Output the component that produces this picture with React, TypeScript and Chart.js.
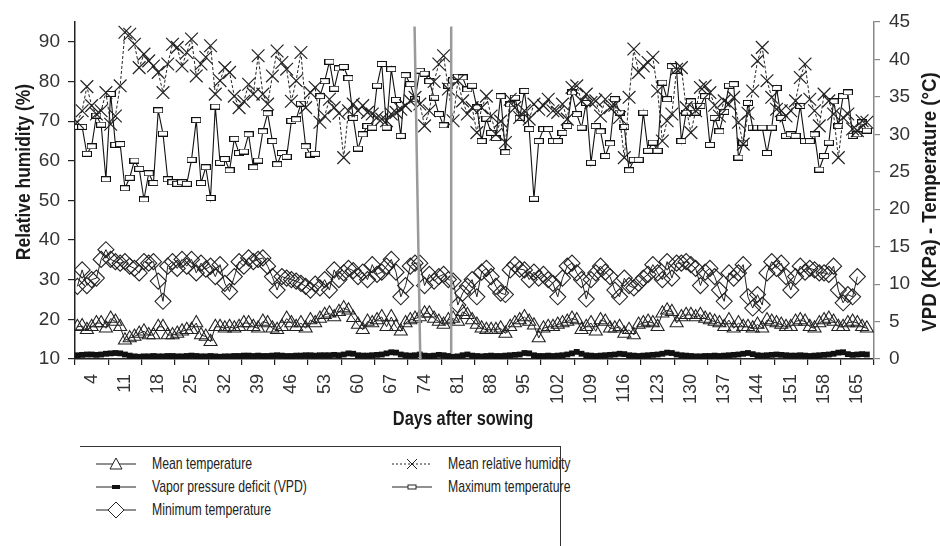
import React, { useEffect, useRef } from 'react';
import { Chart, registerables } from 'chart.js';

Chart.register(...registerables);

// ---------------- DATA ----------------
const days: number[] = Array.from({ length: 167 }, (_, i) => i + 1);
const xTickLabels = [4, 11, 18, 25, 32, 39, 46, 53, 60, 67, 74, 81, 88, 95, 102, 109, 116, 123, 130, 137, 144, 151, 158, 165];
const xTickBoundaries = [0.5, 7.5, 14.5, 21.5, 28.5, 35.5, 42.5, 49.5, 56.5, 63.5, 70.5, 77.5, 84.5, 91.5, 98.5, 105.5, 112.5, 119.5, 126.5, 133.5, 140.5, 147.5, 154.5, 161.5, 168.5];
const leftTicks = [10, 20, 30, 40, 50, 60, 70, 80, 90];
const rightTicks = [0, 5, 10, 15, 20, 25, 30, 35, 40, 45];

// Mean temperature (°C, right axis)
const meanTemp = [
  4.3, 4.4, 3.9, 4.3, 4.8, 4.8, 4.1, 5.4, 5.0, 4.3, 2.5, 2.8, 3.0, 3.4, 3.7, 3.2, 3.2, 4.3, 4.3, 3.2,
  3.2, 3.4, 3.7, 3.9, 3.9, 4.8, 3.2, 3.0, 2.3, 4.3, 4.3, 4.1, 4.3, 4.1, 4.3, 4.8, 4.8, 4.3, 4.1, 5.0,
  4.8, 4.1, 3.9, 4.3, 5.4, 4.8, 4.3, 4.8, 4.1, 5.2, 4.8,
  5.4, 5.9, 6.1, 5.6, 6.3, 6.8, 6.5, 5.5, 4.6, 3.9, 5.0, 4.8, 5.2, 5.6, 4.3, 5.6, 4.3, 3.7, 4.8, 5.2,
  5.4, 5.6, 6.1, 6.1, 5.4, 5.0, 4.6, 5.2, 5.4, 5.0, 6.3, 5.9, 5.2, 4.6, 4.1, 3.9, 3.9, 3.9, 4.1, 3.4,
  4.3, 4.8, 5.2, 5.6, 5.0, 4.5, 2.8, 4.1, 4.3, 4.3, 4.6, 4.8, 5.0, 5.4, 5.2, 3.9, 4.3, 4.8, 3.7, 5.2,
  5.0, 4.1, 4.1,
  4.3, 3.4, 3.9, 3.2, 4.6, 4.8, 5.0, 4.8, 4.3, 6.1, 6.5, 6.3, 4.8, 5.6, 5.9, 5.9, 5.6, 5.9, 5.4, 5.2,
  5.0, 4.8, 4.3, 5.2, 4.1, 4.8, 4.3, 4.3, 4.1, 4.6, 4.1, 5.2, 5.0, 4.8, 4.6, 4.3, 4.3, 5.0, 5.2, 5.0,
  4.3, 4.1, 4.8, 5.2, 5.4, 5.0, 4.3, 4.3, 4.8, 5.0, 4.8, 4.3, 4.1,
];

// Vapor pressure deficit (KPa, right axis)
const vpd = [
  0.5, 0.55, 0.6, 0.6, 0.55, 0.6, 0.7, 0.75, 0.8, 0.75, 0.6, 0.45,
  0.35, 0.3, 0.35, 0.35, 0.4, 0.35, 0.35, 0.4, 0.4, 0.35, 0.35, 0.4, 0.45, 0.4, 0.35, 0.35, 0.4, 0.35,
  0.3, 0.35, 0.35, 0.4, 0.4, 0.45, 0.45, 0.4, 0.45, 0.4, 0.4, 0.45, 0.5, 0.45, 0.4, 0.4, 0.45, 0.45, 0.5, 0.5,
  0.45, 0.5, 0.5, 0.5, 0.55, 0.5, 0.6, 0.75, 0.7, 0.5, 0.45, 0.45, 0.5, 0.55, 0.6, 0.75, 0.9, 0.85, 0.6, 0.5,
  0.45, 0.5, 0.6, 0.45, 0.4, 0.45, 0.55, 0.5, 0.4, 0.3, 0.35, 0.5, 0.6, 0.45, 0.4, 0.35, 0.4, 0.45, 0.4, 0.4,
  0.45, 0.5, 0.55, 0.6, 0.8, 0.75, 0.5, 0.4, 0.4, 0.45, 0.4, 0.45, 0.5, 0.6, 0.75, 0.95, 0.7, 0.5, 0.45, 0.4,
  0.45, 0.5, 0.55, 0.6, 0.7, 0.65, 0.5, 0.45, 0.4, 0.45, 0.5, 0.55, 0.6, 0.7, 0.85, 0.8, 0.6, 0.5, 0.45, 0.4,
  0.35, 0.35, 0.4, 0.4, 0.45, 0.4, 0.45, 0.5, 0.55, 0.6, 0.7, 0.8, 0.65, 0.5, 0.45, 0.5, 0.55, 0.6, 0.55, 0.5,
  0.45, 0.45, 0.5, 0.45, 0.4, 0.45, 0.5, 0.55, 0.6, 0.7, 0.85, 0.9, 0.65, 0.55, 0.6, 0.65, 0.6,
];

// Minimum temperature (°C, right axis)
const minTemp: (number | null)[] = [
  9.7, 11.9, 9.8, 10.6, 10.8, 13.3, 14.6, 13.3, 13.0, 12.8, 13.0, 12.4, 12.1, 11.5, 13.0, 12.8, 13.0, 10.4, 7.7, 12.4,
  13.0, 12.1, 13.3, 12.4, 13.3, 11.5, 12.8, 12.0, 12.4, 11.0, 12.6, 10.1, 9.0, 11.0, 13.0, 12.4, 13.5, 13.0, 13.3, 13.5,
  12.4, 11.0, 9.2, 11.0, 10.8, 10.6, 10.4, 10.1, 9.7, 9.2, 10.0,
  9.5, 10.6, 9.2, 11.9, 10.6, 11.5, 12.1, 11.8, 11.0, 11.6, 10.6, 12.6, 11.3, 11.6, 12.4, 13.3, 11.6, 8.3, 9.8, 12.4,
  12.8, 12.8, 9.8, 11.3, 10.4, 11.0, 11.3, 10.6, 10.4, 7.2, 8.8, 9.7, 10.6, 8.3, 11.6, 12.1, 11.0, 9.7, 8.8, 8.6,
  11.9, 12.6, 12.0, 11.9, 10.6, 11.6, 10.8, 11.3, 10.6, 10.1, 8.3, 10.8, 12.4, 12.8, 11.5, 10.6, 8.0, 10.6, 11.5, 12.4,
  11.6, 11.0, 9.2,
  8.3, 10.8, 9.8, 9.5, 10.1, 10.8, 11.3, 12.6, 11.5, 10.6, 13.0, 10.8, 12.8, 12.8, 13.0, 12.6, 12.1, 9.8, 11.6, 12.1,
  11.0, 9.2, 7.7, 11.5, 10.8, 11.5, 12.6, 8.3, 6.8, 8.6, 7.2, 11.5, 13.0, 12.1, 12.8, 11.0, 9.2, 11.0, 12.4, 11.6,
  12.1, 11.9, 11.5, 11.5, 11.3, 12.4, 9.2, 7.5, 8.6, 8.3, 11.0, null, null,
];

// Mean relative humidity (%, left axis)
const meanRH = [
  69.7, 72.6, 78.7, 73.9, 71.8, 72.6, 77.2, 69.2, 71.3, 78.9, 92.4, 91.9, 89.4, 83.5, 86.9, 85.2, 83.9, 82.3, 77.2, 84.4,
  89.4, 88.6, 83.9, 87.3, 90.7, 81.4, 84.4, 86.1, 89.0, 76.8, 80.2, 83.5, 82.3, 76.3, 73.4, 75.0, 79.3, 76.8, 86.5, 76.8,
  74.3, 81.4, 87.7, 84.8, 83.1, 75.0, 80.2, 87.3, 73.4, 77.2, 78.5,
  69.7, 71.3, 75.5, 73.4, 72.0, 60.8, 72.6, 74.3, 72.6, 73.9, 72.2, 71.8, 70.9, 70.5, 70.1, 71.8, 72.2, 73.0, 73.9, 75.1,
  76.0, 74.3, 68.8, 72.6, 80.0, 84.4, 86.5, 78.1, 70.1, 80.2, 75.1, 71.8, 73.4, 67.1, 73.4, 76.3, 71.3, 66.7, 70.0, 64.6,
  75.5, 73.4, 70.9, 72.6, 70.5, 74.3, 73.0, 73.9, 75.5, 72.6, 72.2, 74.3, 70.5, 78.5, 78.9, 75.1, 76.8, 74.7, 75.1, 71.3,
  75.5, 73.4, 74.0,
  70.9, 60.8, 76.0, 88.2, 82.3, 83.9, 84.8, 86.1, 77.6, 65.0, 70.1, 71.8, 83.1, 83.5, 73.4, 67.1, 72.6, 78.5, 78.9, 77.2,
  74.0, 71.3, 75.1, 74.3, 76.0, 69.7, 64.2, 72.0, 77.6, 85.2, 88.6, 80.2, 76.0, 73.0, 72.6, 71.3, 72.6, 75.1, 81.0, 84.4,
  75.5, 72.6, 68.8, 76.8, 75.1, 71.8, 60.8, 70.9, 71.8, 68.0, 67.6, 70.1, 69.7,
];

// Maximum temperature (°C, right axis)
const maxTemp = [
  31.0, 31.0, 27.4, 28.4, 32.5, 31.3, 24.0, 35.4, 28.6, 28.7, 22.8, 24.2, 26.5, 25.4, 21.3, 24.8, 23.5, 33.2, 30.1, 24.0,
  23.6, 23.4, 23.6, 23.4, 26.6, 31.9, 23.5, 25.6, 21.5, 33.7, 26.2, 26.7, 25.2, 29.4, 27.5, 27.7, 30.0, 25.6, 26.5, 30.4,
  32.8, 29.1, 26.0, 27.5, 27.0, 31.8, 32.0, 34.1, 28.4, 27.3,
  27.4, 35.1, 37.1, 39.7, 36.1, 38.8, 39.0, 37.5, 32.2, 28.1, 30.0, 31.1, 30.9, 36.5, 39.4, 30.9, 38.7, 34.6, 29.8, 37.9,
  36.7, 34.7, 38.5, 38.1, 37.1, 34.9, 32.7, 31.2, 36.5, 37.2, 37.7, 37.6, 36.0, 36.5, 33.6, 29.1, 32.1, 30.2, 29.5, 35.1,
  27.6, 34.0, 34.9, 32.2, 35.8, 30.7, 21.4, 29.1, 30.7, 30.7, 29.1, 29.1, 30.2, 31.1, 35.6, 32.7, 30.9, 34.2, 26.2, 31.1,
  30.4, 27.1, 28.8, 34.7,
  32.9, 31.0, 25.2, 26.6, 26.6, 32.9, 27.8, 28.9, 27.8, 36.9, 34.7, 39.1, 38.5, 29.1, 32.9, 34.4, 32.9, 33.8, 35.1, 28.6,
  32.2, 30.4, 33.0, 36.5, 36.7, 26.9, 28.9, 34.2, 30.9, 30.9, 30.9, 27.5, 30.9, 36.2, 32.2, 29.8, 30.0, 29.8, 33.8, 29.1,
  29.1, 30.0, 25.3, 27.1, 28.9, 34.4, 31.1, 35.1, 35.6, 29.8, 30.0, 31.6, 30.5,
];

// Two grey reference lines (day, value on right axis)
const refLine1 = [[71.9, 44.4], [73.1, 0]];
const refLine2 = [[79.6, 44.4], [79.6, 0.8]];

const SANS = '"Liberation Sans", Arial, Helvetica, sans-serif';

function rectMarker(fill: string): HTMLCanvasElement {
  const c = document.createElement('canvas');
  c.width = 10;
  c.height = 6;
  const g = c.getContext('2d')!;
  g.fillStyle = fill;
  g.fillRect(0.5, 0.5, 9, 5);
  g.strokeStyle = '#111';
  g.lineWidth = 1;
  g.strokeRect(0.5, 0.5, 9, 5);
  return c;
}

function drawCondensed(ctx: any, text: string, x: number, y: number, rot: number, sx: number) {
  ctx.save();
  ctx.translate(x, y);
  ctx.rotate(rot);
  ctx.scale(sx, 1);
  ctx.fillText(text, 0, 0);
  ctx.restore();
}

const titlePlugin = {
  id: 'axisTitles',
  afterDraw(chart: any) {
    const ctx = chart.ctx;
    ctx.save();
    ctx.fillStyle = '#1a1a1a';
    ctx.textAlign = 'center';
    ctx.textBaseline = 'middle';
    ctx.font = `bold 21px ${SANS}`;
    drawCondensed(ctx, 'Relative humidity (%)', 24, 172, -Math.PI / 2, 0.83);
    drawCondensed(ctx, 'VPD (KPa) - Temperature (°C)', 930, 202, -Math.PI / 2, 0.89);
    ctx.font = `bold 20px ${SANS}`;
    drawCondensed(ctx, 'Days after sowing', 463, 419, 0, 0.82);
    ctx.restore();
  },
};

const toXY = (arr: (number | null)[]) => arr.map((v, i) => ({ x: days[i], y: v }));

function LegendSymbol({ kind }: { kind: string }) {
  const line = kind === 'rh'
    ? <line x1="0" y1="8" x2="40" y2="8" stroke="#222" strokeWidth="1" strokeDasharray="2,2" />
    : <line x1="0" y1="8" x2="40" y2="8" stroke="#222" strokeWidth="1.2" />;
  let mark: any = null;
  if (kind === 'tri') mark = <polygon points="20,2 26,13 14,13" fill="#fff" stroke="#222" strokeWidth="1" />;
  if (kind === 'vpd') mark = <rect x="16" y="6" width="8" height="4" fill="#111" />;
  if (kind === 'dia') mark = <polygon points="20,0 28,8 20,16 12,8" fill="#fff" stroke="#222" strokeWidth="1" />;
  if (kind === 'rh') mark = <g stroke="#222" strokeWidth="1"><line x1="15" y1="3" x2="25" y2="13" /><line x1="15" y1="13" x2="25" y2="3" /></g>;
  if (kind === 'max') mark = <rect x="16" y="6" width="8" height="4" fill="#fff" stroke="#222" strokeWidth="1" />;
  return (
    <svg width="40" height="16" style={{ display: 'block' }}>
      {line}
      {mark}
    </svg>
  );
}

export default function App() {
  const ref = useRef<HTMLCanvasElement | null>(null);

  useEffect(() => {
    if (!ref.current) return;
    const boundarySet = new Set(xTickBoundaries);
    const labelSet = new Set(xTickLabels);
    const chart = new Chart(ref.current, {
      type: 'line',
      data: {
        datasets: [
          {
            label: 'ref1', data: refLine1.map(([x, y]) => ({ x, y })), yAxisID: 'yR',
            borderColor: '#9a9a9a', borderWidth: 2.5, pointRadius: 0, order: 0,
          },
          {
            label: 'ref2', data: refLine2.map(([x, y]) => ({ x, y })), yAxisID: 'yR',
            borderColor: '#9a9a9a', borderWidth: 2.5, pointRadius: 0, order: 0,
          },
          {
            label: 'Mean relative humidity', data: toXY(meanRH), yAxisID: 'yL',
            borderColor: '#222', borderWidth: 1, borderDash: [3, 2],
            pointStyle: 'crossRot', pointRadius: 9, pointBorderColor: '#222', pointBorderWidth: 1.2,
            order: 1,
          },
          {
            label: 'Maximum temperature', data: toXY(maxTemp), yAxisID: 'yR',
            borderColor: '#111', borderWidth: 1.1,
            pointStyle: rectMarker('#fff') as any, pointRadius: 5,
            order: 1,
          },
          {
            label: 'Minimum temperature', data: toXY(minTemp), yAxisID: 'yR',
            borderColor: '#222', borderWidth: 1,
            pointStyle: 'rectRot', pointRadius: 8, pointBackgroundColor: 'rgba(255,255,255,0)',
            pointBorderColor: '#222', pointBorderWidth: 1.1,
            order: 1,
          },
          {
            label: 'Mean temperature', data: toXY(meanTemp), yAxisID: 'yR',
            borderColor: '#222', borderWidth: 1,
            pointStyle: 'triangle', pointRadius: 7.5, pointBackgroundColor: 'rgba(255,255,255,0)',
            pointBorderColor: '#222', pointBorderWidth: 1.1,
            order: 1,
          },
          {
            label: 'Vapor pressure deficit (VPD)', data: toXY(vpd), yAxisID: 'yR',
            borderColor: '#111', borderWidth: 3,
            pointStyle: 'rect', pointRadius: 2, pointBackgroundColor: '#111', pointBorderColor: '#111',
            order: 1,
          },
        ],
      },
      options: {
        animation: false,
        responsive: false,
        events: [],
        layout: { padding: { top: 22, left: 0, right: 0, bottom: 0 } },
        plugins: { legend: { display: false }, tooltip: { enabled: false } },
        scales: {
          x: {
            type: 'linear',
            min: 0.5,
            max: 168.5,
            afterBuildTicks: (scale: any) => {
              const vals = [...xTickBoundaries, ...xTickLabels].sort((a, b) => a - b);
              scale.ticks = vals.map((v) => ({ value: v }));
            },
            afterFit: (scale: any) => { scale.height = 81; },
            border: { display: true, color: '#222', width: 1.5 },
            grid: {
              drawOnChartArea: false,
              drawTicks: true,
              tickLength: 6,
              lineWidth: 1.2,
              color: (c: any) => (c.tick && boundarySet.has(c.tick.value) ? '#222' : 'rgba(0,0,0,0)'),
            },
            ticks: {
              autoSkip: false,
              maxRotation: 90,
              minRotation: 90,
              padding: 9,
              color: '#333',
              font: { family: SANS, size: 18 },
              callback: (v: any) => (labelSet.has(Number(v)) ? String(v) : ''),
            },
          },
          yL: {
            type: 'linear',
            position: 'left',
            min: 10,
            max: 95,
            afterBuildTicks: (scale: any) => { scale.ticks = leftTicks.map((v) => ({ value: v })); },
            afterFit: (scale: any) => { scale.width = 75; },
            border: { display: true, color: '#222', width: 1.5 },
            grid: { drawOnChartArea: false, tickLength: 7, color: '#222', lineWidth: 1.2 },
            ticks: { padding: 8, color: '#333', font: { family: SANS, size: 19 } },
          },
          yR: {
            type: 'linear',
            position: 'right',
            min: 0,
            max: 45,
            afterBuildTicks: (scale: any) => { scale.ticks = rightTicks.map((v) => ({ value: v })); },
            afterFit: (scale: any) => { scale.width = 66; },
            border: { display: true, color: '#888', width: 1.5 },
            grid: { drawOnChartArea: false, tickLength: 6, color: '#888', lineWidth: 1.2 },
            ticks: { padding: 9, color: '#333', font: { family: SANS, size: 19 } },
          },
        },
      },
      plugins: [titlePlugin],
    } as any);
    return () => chart.destroy();
  }, []);

  const textStyle: React.CSSProperties = {
    position: 'absolute', fontFamily: SANS, fontSize: 17, color: '#222', lineHeight: '20px', whiteSpace: 'nowrap',
    transform: 'scaleX(0.72)', transformOrigin: 'left center',
  };
  const items = [
    { kind: 'tri', text: 'Mean temperature', sx: 96, tx: 152, y: 464 },
    { kind: 'vpd', text: 'Vapor pressure deficit (VPD)', sx: 96, tx: 152, y: 487 },
    { kind: 'dia', text: 'Minimum temperature', sx: 96, tx: 152, y: 510 },
    { kind: 'rh', text: 'Mean relative humidity', sx: 392, tx: 448, y: 464 },
    { kind: 'max', text: 'Maximum temperature', sx: 392, tx: 448, y: 487 },
  ];

  return (
    <div style={{ position: 'absolute', left: 0, top: 0, width: 940, height: 546, background: '#fff', overflow: 'hidden' }}>
      <canvas ref={ref} width={940} height={440} style={{ position: 'absolute', left: 0, top: 0 }} />
      <div style={{ position: 'absolute', left: 80, top: 446, width: 481, height: 1.2, background: '#333' }} />
      <div style={{ position: 'absolute', left: 560, top: 446, width: 1.2, height: 100, background: '#333' }} />
      {items.map((it) => (
        <React.Fragment key={it.text}>
          <div style={{ position: 'absolute', left: it.sx, top: it.y - 8 }}>
            <LegendSymbol kind={it.kind} />
          </div>
          <div style={{ ...textStyle, left: it.tx, top: it.y - 10 }}>{it.text}</div>
        </React.Fragment>
      ))}
    </div>
  );
}
